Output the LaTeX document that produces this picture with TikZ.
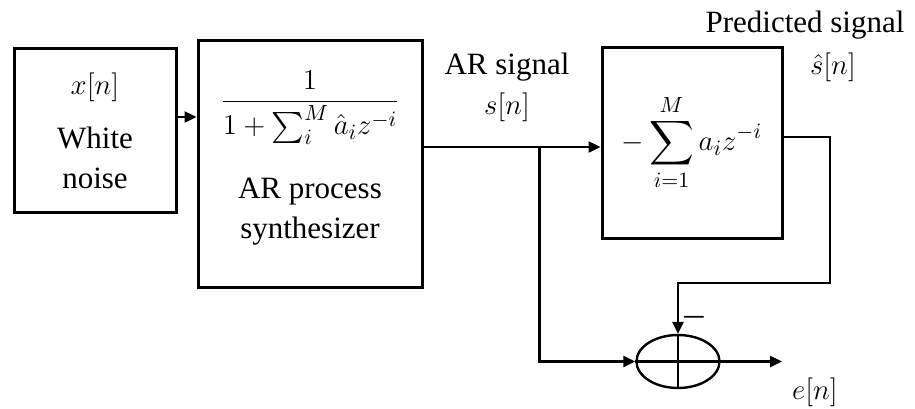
\documentclass[tikz,border=0pt]{standalone}
\usepackage{amsmath,amssymb}
\usepackage{fontspec}
\setmainfont{Liberation Serif}
\usetikzlibrary{arrows.meta,positioning,calc,shapes.geometric}

\tikzset{
  blk/.style={draw, line width=1.5pt, inner sep=0pt},
  lbl/.style={inner sep=1pt},
  sig/.style={line width=1.2pt},
  sigarr/.style={sig, -{Triangle[length=6pt,width=5.5pt]}},
}

\begin{document}
\begin{tikzpicture}[x=0.5pt, y=-0.5pt, every node/.style={align=center, font=\fontsize{15.5}{20}\selectfont}]
\useasboundingbox (0,0) rectangle (915,408);
% blocks
\node[blk, minimum width=81pt, minimum height=82pt] (noise) at (95,130.5) {$x[n]$\\[7pt]White\\noise};
\node[blk, minimum width=112pt, minimum height=123.5pt] (synth) at (310,163.5) {};
\node[lbl] (synthtxt) at (310,158) {$\displaystyle\frac{1}{1+\sum_i^M \hat{a}_i z^{-i}}$\\[16pt]AR process\\synthesizer};
\node[blk, minimum width=90pt, minimum height=95.5pt] (pred) at (692,142.5) {$-\displaystyle\sum_{i=1}^{M} a_i z^{-i}$};
\node[draw, ellipse, line width=1.2pt, minimum width=41.5pt, minimum height=26.5pt, inner sep=0pt] (sum) at (678,361.5) {};
\draw[sig] (sum.north) -- (sum.south) (sum.west) -- (sum.east);
% labels
\node[lbl] (arsig) at (507,87) {AR signal\\$s[n]$};
\node[lbl] (predlbl) at (805,25) {Predicted signal};
\node[lbl] (shat) at (833,67) {$\hat{s}[n]$};
\node[lbl] (minus) at (694,317) {$\boldsymbol{-}$};
\node[lbl] (err) at (815,392) {$e[n]$};
% signal paths
\draw[sigarr] ([yshift=6.75pt]noise.east) coordinate (n1) -- (n1 -| synth.west);
\draw[sigarr] ([yshift=8.25pt]synth.east) coordinate (s1) -- (s1 -| pred.west);
\coordinate (br) at ($(s1)!0.656!(s1 -| pred.west)$);
\draw[sigarr] (br) |- (sum.west);
\coordinate (fb) at (830,283);
\draw[sigarr] ([yshift=2.75pt]pred.east) -| (fb) -| (sum.north);
\coordinate (out) at (782,361.5);
\draw[sigarr] (sum.east) -- (out);
\end{tikzpicture}
\end{document}
